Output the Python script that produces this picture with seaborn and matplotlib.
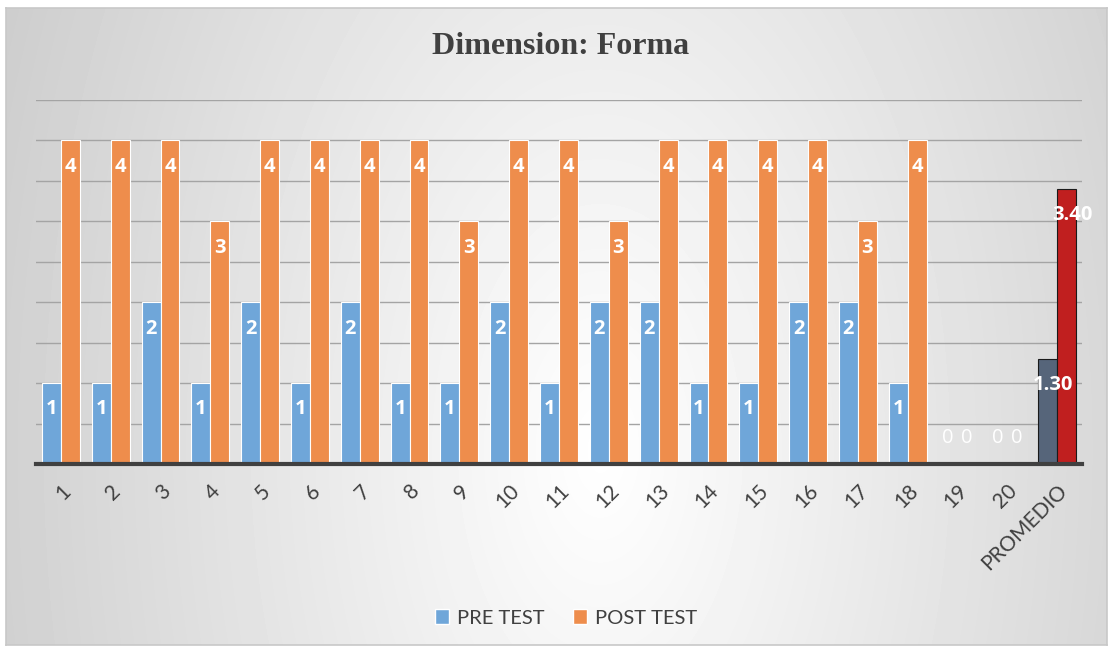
import numpy as np
import pandas as pd
import matplotlib
matplotlib.use("Agg")
import matplotlib.pyplot as plt
import seaborn as sns

plt.rcParams["font.family"] = ["Lato", "DejaVu Sans"]

categorias = [str(i) for i in range(1, 21)] + ["PROMEDIO"]
pre_test = [1, 1, 2, 1, 2, 1, 2, 1, 1, 2, 1, 2, 2, 1, 1, 2, 2, 1, 0, 0, 1.30]
post_test = [4, 4, 4, 3, 4, 4, 4, 4, 3, 4, 4, 3, 4, 4, 4, 4, 3, 4, 0, 0, 3.40]
series = ["PRE TEST", "POST TEST"]

BLUE = "#6FA6D9"
ORANGE = "#EE8D4C"
SLATE = "#56657A"
RED = "#C01F1F"
TXT = "#404040"

df = pd.DataFrame({
    "alumno": categorias * 2,
    "puntaje": pre_test + post_test,
    "prueba": [series[0]] * len(categorias) + [series[1]] * len(categorias),
})

W, H = 1111, 650
fig = plt.figure(figsize=(W / 100, H / 100), dpi=100)
fig.patch.set_facecolor("white")

# gradient background of the chart area
bx0, by0, bw, bh = 6, 8, 1101, 637
bg = fig.add_axes([bx0 / W, 1 - (by0 + bh) / H, bw / W, bh / H], zorder=0)
xx, yy = np.meshgrid(np.arange(bx0, bx0 + bw), np.arange(by0, by0 + bh))
d = np.sqrt(((xx - 600) / 520.0) ** 2 + ((yy - 450) / 900.0) ** 2)
lum = np.clip(255 - 40 * d, 195, 255) / 255.0
bg.imshow(lum, cmap="gray", vmin=0, vmax=1, aspect="auto", interpolation="bilinear")
bg.set_xticks([])
bg.set_yticks([])
for s in bg.spines.values():
    s.set_color("#C8C8C8")
    s.set_linewidth(1.2)

# main axes
ax = fig.add_axes([36 / W, 1 - 464 / H, 1046 / W, 364 / H], zorder=1)
ax.patch.set_alpha(0)

sns.barplot(
    data=df, x="alumno", y="puntaje", hue="prueba",
    palette=[BLUE, ORANGE], saturation=1, width=0.76,
    edgecolor="white", linewidth=0.8, ax=ax, legend=False, zorder=3,
)

# PROMEDIO bars get their own colours
pre_bars, post_bars = ax.containers[0], ax.containers[1]
pre_bars[-1].set_facecolor(SLATE)
pre_bars[-1].set_edgecolor("#1a1a1a")
post_bars[-1].set_facecolor(RED)
post_bars[-1].set_edgecolor("#1a1a1a")

ax.set_ylim(0, 4.5)
ax.set_yticks(np.arange(0, 4.51, 0.5))
ax.set_yticklabels([])
ax.tick_params(axis="y", length=0)
ax.grid(axis="y", color="#A4A4A4", linewidth=1.0, zorder=0)
ax.set_axisbelow(True)
for s in ["top", "right", "left", "bottom"]:
    ax.spines[s].set_visible(False)
ax.axhline(0, color="#404040", linewidth=3, zorder=4, clip_on=False)

ax.set_xlabel("")
ax.set_ylabel("")
ax.tick_params(axis="x", length=0, pad=12, labelsize=15, labelcolor=TXT)
for lab in ax.get_xticklabels():
    lab.set_rotation(45)
    lab.set_ha("right")
    lab.set_rotation_mode("anchor")

# data labels (inside end)
for cont in ax.containers:
    for i, bar in enumerate(cont):
        v = bar.get_height()
        txt = f"{v:.2f}" if categorias[i] == "PROMEDIO" else f"{v:g}"
        off = 19 if v == 0 else -19
        dx = 4 if categorias[i] == "PROMEDIO" else 0
        ax.annotate(
            txt, (bar.get_x() + bar.get_width() / 2, v),
            xytext=(dx, off), textcoords="offset points",
            ha="center", va="center", color="white", family="Open Sans",
            fontsize=14.5, fontweight="bold" if v != 0 else "normal", zorder=6,
        )

fig.text(561 / W, 1 - 47 / H, "Dimension: Forma", ha="center", va="center",
         fontsize=23, fontweight="bold", color=TXT, family="Liberation Serif")

handles = [plt.Rectangle((0, 0), 1, 1, facecolor=c, edgecolor="white") for c in (BLUE, ORANGE)]
fig.legend(handles, series, loc="center", bbox_to_anchor=(566 / W, 1 - 618 / H),
           ncol=2, frameon=False, fontsize=14.5, labelcolor=TXT,
           handlelength=0.7, handleheight=0.7, handletextpad=0.4, columnspacing=1.4)

fig.savefig("out.png", dpi=100)
